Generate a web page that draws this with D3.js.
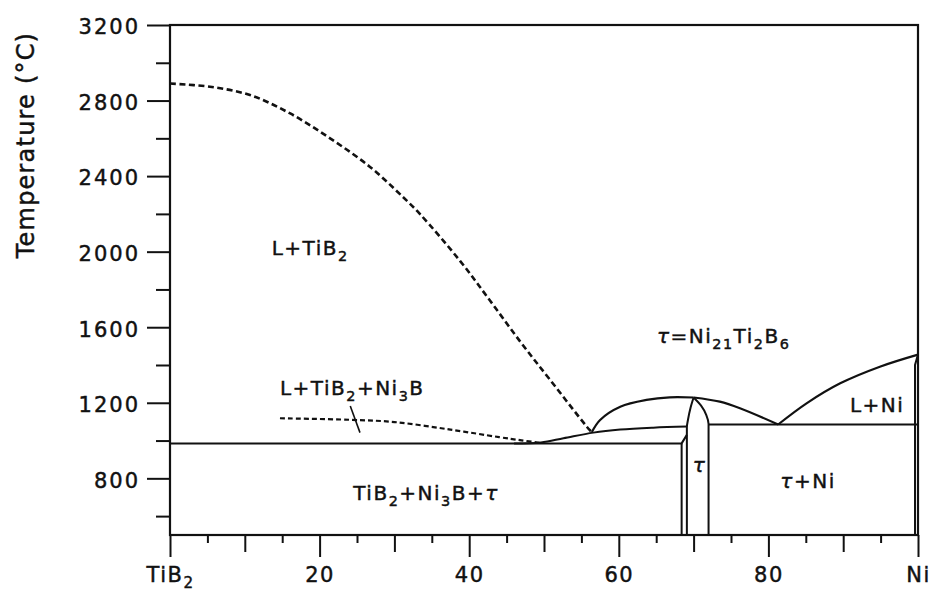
<!DOCTYPE html>
<html>
<head>
<meta charset="utf-8">
<script src="https://cdn.jsdelivr.net/npm/d3@7.9.0/dist/d3.min.js"></script>
<style>
  body { margin: 0; background: #fff; }
  svg { display: block; }
  text { font-family: "DejaVu Sans", sans-serif; fill: #111; stroke: #111; stroke-width: 0.45px; }
  .tick line { stroke: #111; stroke-width: 2; }
</style>
</head>
<body>
<svg width="932" height="593"></svg>
<script>
// composition (% Ni) vs temperature (°C)
const liquidusTiB2 = [[0, 2890], [5.35, 2873], [10.7, 2829], [16, 2733], [21.4, 2600], [26.7, 2450], [31.1, 2291], [33.4, 2200], [38.8, 1950], [42.8, 1740], [46.8, 1525], [50.8, 1322], [56.1, 1056], [56.4, 1045]];
const ni3bLine = [[14.7, 1118], [24, 1110], [30, 1098], [37.5, 1058], [44, 1018], [47, 1001], [49.5, 988]];
const upperLine = [[46, 985], [49.6, 990], [52.6, 1012], [56.6, 1042], [60.2, 1058], [64.6, 1068], [69.1, 1074]];
const domeLeft = [[56.4, 1045], [57.5, 1109], [60.2, 1179], [63.7, 1215], [66.8, 1229], [70, 1228]];
const domeRight = [[70, 1228], [73.5, 1206], [76.2, 1171], [81.3, 1085]];
const liquidusNi = [[81.3, 1085], [85.1, 1197], [89.6, 1303], [94.9, 1391], [100, 1455]];
const tauLeft = [[70, 1228], [69.6, 1175], [69.25, 1110], [69.1, 1070], [69.1, 500]];
const tauRight = [[70, 1228], [71, 1185], [71.7, 1135], [72, 1088], [72, 500]];
const eutectic = [[0, 985], [68.4, 985], [69.1, 1030]];
const tauOuter = [[68.4, 985], [68.4, 500]];
const niEutectic = [[72, 1085], [100, 1085]];
const niSolidus = [[100, 1455], [99.6, 1400], [99.6, 500]];
const leader = [[24.1, 1183], [25.4, 1042]];

const yMajor = [800, 1200, 1600, 2000, 2400, 2800, 3200];
const yMinor = [600, 1000, 1400, 1800, 2200, 2600, 3000];
const xLabelled = [0, 20, 40, 60, 80, 100];
const xLabels = ['TiB_{2}', '20', '40', '60', '80', 'Ni'];
const xMid = [10, 30, 50, 70, 90];
const xMinor = [5, 15, 25, 35, 45, 55, 65, 75, 85, 95];

const regionLabels = [
  { t: 'L+TiB_{2}', c: 13.6, T: 1982 },
  { t: 'L+TiB_{2}+Ni_{3}B', c: 14.7, T: 1241 },
  { t: 'TiB_{2}+Ni_{3}B+τ', c: 24.5, T: 685 },
  { t: 'τ=Ni_{21}Ti_{2}B_{6}', c: 65.1, T: 1516 },
  { t: 'L+Ni', c: 90.9, T: 1153 },
  { t: 'τ+Ni', c: 81.6, T: 749 },
  { t: 'τ', c: 69.9, T: 833 }
];

const svg = d3.select('svg');
const x = d3.scaleLinear().domain([0, 100]).range([170, 918]);
const y = d3.scaleLinear().domain([500, 3200]).range([535, 25]);

// text with subscripts written as _{..}, τ in italics
function rich(sel, str, size) {
  sel.text(null);
  let off = 0;
  const re = /_\{([^}]*)\}|τ|[^_τ]+/g;
  let m;
  while ((m = re.exec(str)) !== null) {
    const span = sel.append('tspan');
    if (m[1] !== undefined) {
      span.text(m[1]).attr('font-size', size * 0.72).attr('dy', size * 0.3 - off);
      off = size * 0.3;
    } else {
      span.text(m[0]).attr('dy', -off);
      off = 0;
      if (m[0] === 'τ') span.attr('font-style', 'italic');
    }
  }
}

// axes
const yAx = svg.append('g').attr('transform', `translate(${x(0)},0)`)
  .call(d3.axisLeft(y).tickValues(yMajor).tickSize(23).tickPadding(7).tickFormat(d3.format('d')));
svg.append('g').attr('transform', `translate(${x(0)},0)`)
  .call(d3.axisLeft(y).tickValues(yMinor).tickSize(14).tickFormat(''));
const xAx = svg.append('g').attr('transform', `translate(0,${y(500)})`)
  .call(d3.axisBottom(x).tickValues(xLabelled).tickSize(22));
svg.append('g').attr('transform', `translate(0,${y(500)})`)
  .call(d3.axisBottom(x).tickValues(xMid).tickSize(17).tickFormat(''));
svg.append('g').attr('transform', `translate(0,${y(500)})`)
  .call(d3.axisBottom(x).tickValues(xMinor).tickSize(8).tickFormat(''));
svg.selectAll('.domain').remove();
yAx.selectAll('text').style('font-size', '21px').style('letter-spacing', '2px')
  .attr('dy', '0.42em');
xAx.selectAll('text').style('font-size', '21px').style('letter-spacing', '1.5px')
  .attr('dy', null).attr('y', 47)
  .each(function (d, i) { rich(d3.select(this), xLabels[i], 21); });
svg.selectAll('.tick text').attr('font-family', null);

// frame
svg.append('rect')
  .attr('x', x(0)).attr('y', y(3200))
  .attr('width', x(100) - x(0)).attr('height', y(500) - y(3200))
  .attr('fill', 'none').attr('stroke', '#111').attr('stroke-width', 2.2);

// axis title
svg.append('text')
  .attr('transform', `translate(34,145) rotate(-90)`)
  .attr('text-anchor', 'middle')
  .style('font-size', '24px').style('letter-spacing', '1.2px')
  .text('Temperature (°C)');

// phase boundaries
const line = d3.line().x(d => x(d[0])).y(d => y(d[1]));
const smooth = d3.line().x(d => x(d[0])).y(d => y(d[1])).curve(d3.curveCatmullRom);
const smoothY = d3.line().x(d => x(d[0])).y(d => y(d[1])).curve(d3.curveMonotoneY);

function draw(gen, data, w, dash) {
  svg.append('path').attr('d', gen(data))
    .attr('fill', 'none').attr('stroke', '#111')
    .attr('stroke-width', w).attr('stroke-dasharray', dash || null);
}

draw(smooth, liquidusTiB2, 2.6, '6 3.5');
draw(smooth, ni3bLine, 2.2, '5 3');
draw(smooth, upperLine, 2);
draw(smooth, domeLeft, 2.2);
draw(smooth, domeRight, 2.2);
draw(smooth, liquidusNi, 2.2);
draw(smoothY, tauLeft, 2);
draw(smoothY, tauRight, 2);
draw(line, eutectic, 2);
draw(line, tauOuter, 2);
draw(line, niEutectic, 2);
draw(line, niSolidus, 2);
draw(line, leader, 1.6);

// region labels
regionLabels.forEach(l => {
  const t = svg.append('text')
    .attr('x', x(l.c)).attr('y', y(l.T))
    .style('font-size', '20px').style('letter-spacing', '1.5px');
  rich(t, l.t, 20);
});
</script>
</body>
</html>
